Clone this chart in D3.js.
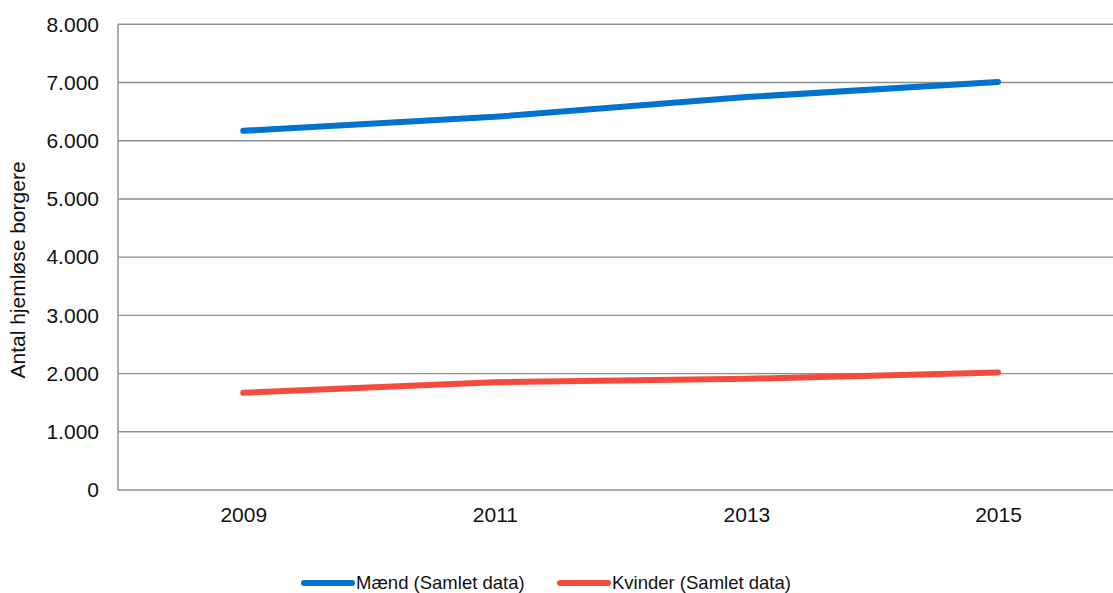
<!DOCTYPE html>
<html>
<head>
<meta charset="utf-8">
<script src="https://cdn.jsdelivr.net/npm/d3@7"></script>
<style>
  html, body { margin: 0; padding: 0; background: #fff; }
  svg { display: block; font-family: "Liberation Sans", Arial, Helvetica, sans-serif; }
</style>
</head>
<body>
<svg id="chart" width="1113" height="593"></svg>
<script>
const years = ["2009", "2011", "2013", "2015"];
const maend = [6170, 6410, 6750, 7010];
const kvinder = [1670, 1850, 1910, 2020];
const yTicks = [0, 1000, 2000, 3000, 4000, 5000, 6000, 7000, 8000];
const seriesNames = ["Mænd (Samlet data)", "Kvinder (Samlet data)"];
const seriesColors = ["#0073CE", "#F64B3C"];

(function () {
const svg = d3.select("#chart");
const W = 1113;
const plotLeft = 118, plotTop = 24.3, plotBottom = 490;

const x = d3.scalePoint().domain(years).range([243.3, 998]);
const y = d3.scaleLinear().domain([0, 8000]).range([plotBottom, plotTop]);

const fmt = v => v === 0 ? "0" : d3.format(",")(v).replace(/,/g, ".");

// gridlines
svg.append("g").selectAll("line").data(yTicks).join("line")
  .attr("x1", plotLeft).attr("x2", W)
  .attr("y1", d => y(d)).attr("y2", d => y(d))
  .attr("stroke", "#8e8e8e").attr("stroke-width", 1.4);

// left axis line
svg.append("line").attr("x1", plotLeft).attr("x2", plotLeft)
  .attr("y1", y(8000)).attr("y2", y(0))
  .attr("stroke", "#8e8e8e").attr("stroke-width", 1.4);

// y axis labels
const yAxis = d3.axisLeft(y).tickValues(yTicks).tickFormat(fmt).tickSize(0).tickPadding(19);
const yg = svg.append("g").attr("transform", `translate(${plotLeft},0)`).call(yAxis);
yg.select(".domain").remove();
yg.selectAll("text").attr("font-size", 21).attr("fill", "#111")
  .attr("font-family", "Liberation Sans, Arial, sans-serif");

// x axis labels
const xAxis = d3.axisBottom(x).tickSize(0).tickPadding(17);
const xg = svg.append("g").attr("transform", `translate(0,${plotBottom})`).call(xAxis);
xg.select(".domain").remove();
xg.selectAll("text").attr("font-size", 21).attr("fill", "#111")
  .attr("font-family", "Liberation Sans, Arial, sans-serif");

// y axis title
svg.append("text")
  .attr("transform", `translate(25,270) rotate(-90)`)
  .attr("text-anchor", "middle")
  .attr("font-size", 21).attr("fill", "#111")
  .text("Antal hjemløse borgere");

// lines
const line = d3.line().x((d, i) => x(years[i])).y(d => y(d));
[maend, kvinder].forEach((vals, i) => {
  svg.append("path").datum(vals)
    .attr("d", line)
    .attr("fill", "none")
    .attr("stroke", seriesColors[i])
    .attr("stroke-width", 6)
    .attr("stroke-linecap", "round")
    .attr("stroke-linejoin", "round");
});

// legend
const legendX = [304, 560];
seriesNames.forEach((name, i) => {
  const g = svg.append("g").attr("transform", `translate(${legendX[i]},583)`);
  g.append("line").attr("x1", 0).attr("x2", 48).attr("y1", 0).attr("y2", 0)
    .attr("stroke", seriesColors[i]).attr("stroke-width", 6).attr("stroke-linecap", "round");
  g.append("text").attr("x", 52).attr("y", 0).attr("dy", "0.33em")
    .attr("font-size", 18.5).attr("fill", "#111").text(name);
});
})();
</script>
</body>
</html>
